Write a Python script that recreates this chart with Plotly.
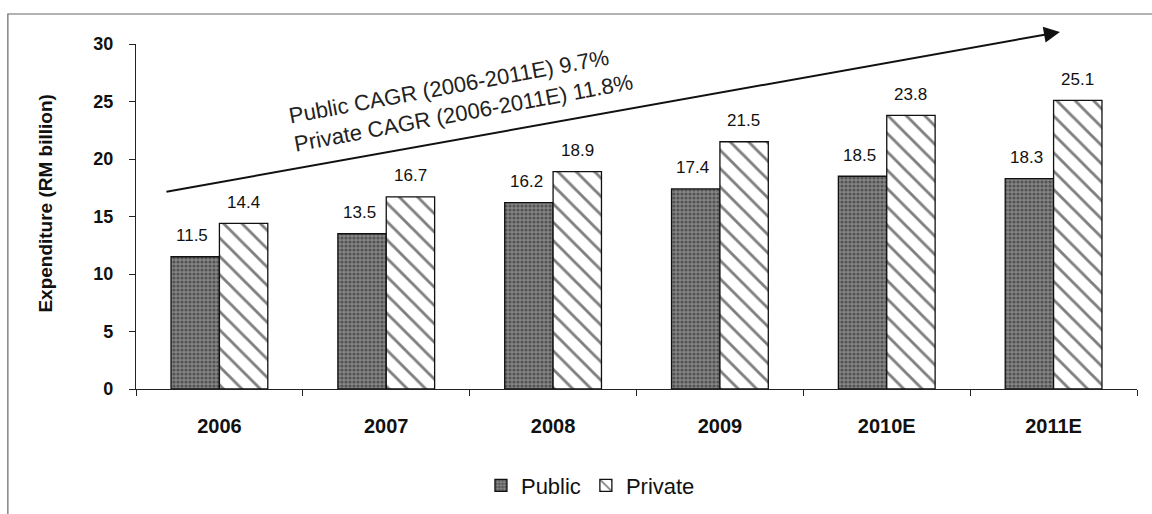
import plotly.graph_objects as go

years = ["2006", "2007", "2008", "2009", "2010E", "2011E"]
public = [11.5, 13.5, 16.2, 17.4, 18.5, 18.3]
private = [14.4, 16.7, 18.9, 21.5, 23.8, 25.1]
y_ticks = [0, 5, 10, 15, 20, 25, 30]
cagr_lines = ["Public CAGR (2006-2011E) 9.7%", "Private CAGR (2006-2011E) 11.8%"]

FONT = "Liberation Sans, Arial, sans-serif"

fig = go.Figure()
fig.add_trace(go.Bar(
    name="Public", x=years, y=public,
    marker=dict(
        color="#7a7a7a",
        line=dict(color="#111", width=1.3),
        pattern=dict(shape=".", fgcolor="#222", bgcolor="#858585",
                     size=4, solidity=0.5, fillmode="overlay"),
    ),
))
fig.add_trace(go.Bar(
    name="Private", x=years, y=private,
    marker=dict(
        color="white",
        line=dict(color="#111", width=1.3),
        pattern=dict(shape="\\", fgcolor="#000", bgcolor="white",
                     size=13, solidity=0.22, fillmode="overlay"),
    ),
))

# value labels above each bar
annotations = []
for i, yr in enumerate(years):
    annotations.append(dict(x=i, y=public[i], xref="x", yref="y", text=f"{public[i]:.1f}",
                            showarrow=False, xshift=-27, yshift=21,
                            font=dict(family=FONT, size=17, color="#111")))
    annotations.append(dict(x=i, y=private[i], xref="x", yref="y", text=f"{private[i]:.1f}",
                            showarrow=False, xshift=24, yshift=21,
                            font=dict(family=FONT, size=17, color="#111")))

# growth arrow (head position in paper units, tail as pixel offset)
annotations.append(dict(
    x=0.923, y=1.035, xref="paper", yref="paper", ax=-895, ay=160,
    text="", showarrow=True, arrowhead=2, arrowsize=1.6, arrowwidth=2, arrowcolor="#111",
))
# CAGR text
annotations.append(dict(
    x=0.325, y=0.84, xref="paper", yref="paper", xanchor="center", yanchor="middle",
    text="<br>".join(cagr_lines),
    showarrow=False, textangle=-10.5, align="left",
    font=dict(family=FONT, size=22, color="#222"),
))
# y-axis title
annotations.append(dict(
    x=-0.09, y=0.54, xref="paper", yref="paper", xanchor="center", yanchor="middle",
    text="<b>Expenditure (RM billion)</b>",
    showarrow=False, textangle=-90, font=dict(family=FONT, size=19, color="#111"),
))

fig.update_layout(
    width=1152, height=514,
    margin=dict(l=136, r=15, t=44, b=125, autoexpand=False),
    paper_bgcolor="white", plot_bgcolor="white",
    barmode="group", bargap=0.42, bargroupgap=0,
    font=dict(family=FONT, color="#111"),
    showlegend=True,
    legend=dict(orientation="h", x=0.454, y=-0.28, xanchor="center", yanchor="middle",
                font=dict(family=FONT, size=22, color="#111"), itemwidth=30,
                traceorder="normal"),
    annotations=annotations,
    shapes=[dict(type="rect", xref="paper", yref="paper",
                 x0=-0.128, x1=1.05, y0=-0.5, y1=1.087,
                 line=dict(color="#666", width=1.2), layer="below")],
)
fig.update_xaxes(
    type="category", range=[-0.5, 5.5], showline=True, linecolor="#222", linewidth=1.2,
    ticks="outside", tickson="boundaries", ticklen=6, tickcolor="#222",
    tickfont=dict(family=FONT, size=20, color="#111", weight="bold"),
    ticklabelstandoff=19, showgrid=False, zeroline=False, automargin=False,
)
fig.update_yaxes(
    range=[0, 30], tickvals=y_ticks, showline=True, linecolor="#222", linewidth=1.2,
    ticks="outside", ticklen=6, tickcolor="#222", showgrid=False, zeroline=False,
    tickfont=dict(family=FONT, size=18, color="#111", weight="bold"),
    ticklabelstandoff=12, automargin=False,
)

fig.write_html("out.html")
